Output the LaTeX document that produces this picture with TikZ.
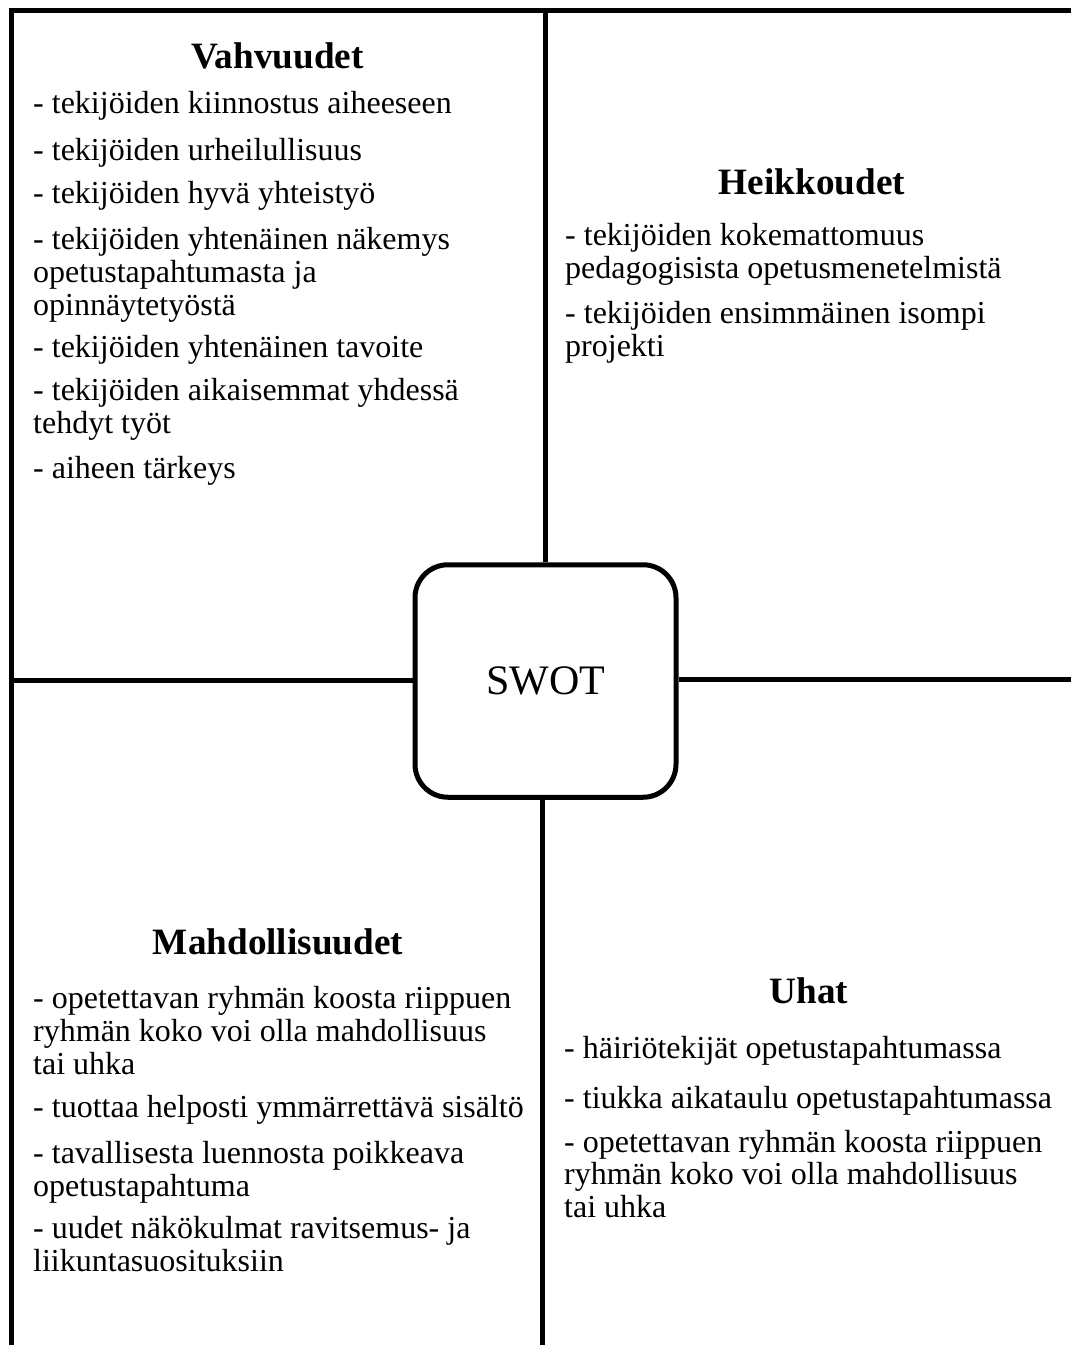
\documentclass[tikz,border=0pt]{standalone}
\usepackage{fontspec}
\setmainfont{Liberation Serif}
\begin{document}
\begin{tikzpicture}[x=1pt,y=-1pt,
  frame/.style={line width=5pt,line join=miter,line cap=butt},
  head/.style={anchor=base,inner sep=0pt,font=\fontsize{37.2}{41}\selectfont\bfseries},
  item/.style={anchor=base west,inner sep=0pt,font=\fontsize{32}{33}\selectfont},
  swotbox/.style={draw,line width=5pt,rounded corners=33pt,minimum width=261pt,minimum height=232.5pt,inner sep=0pt,font=\fontsize{42}{46}\selectfont}]
\useasboundingbox (0,0) rectangle (1071,1345);
% frame coordinates
\coordinate (fbl) at (11.5,1350);
\coordinate (ftl) at (11.5,10.5);
\coordinate (ftr) at (1076,10.5);
\coordinate (ftm) at (545.5,10.5);
\coordinate (fbm) at (542,1350);
\coordinate (flm) at (11.5,680);
\coordinate (frm) at (1076,679);
\draw[frame] (fbl) -- (ftl) -- (ftr);
% centre box
\node[swotbox] (swot) at (545.5,681) {SWOT};
\draw[frame] (swot.north -| ftm) -- (ftm);
\draw[frame] (swot.south -| fbm) -- (fbm);
\draw[frame] (swot.west |- flm) -- (flm);
\draw[frame] (swot.east |- frm) -- (frm);
% Vahvuudet
\node[head] (hs) at (277.5,68) {Vahvuudet};
\node[item] (s1) at (33,113) {- tekijöiden kiinnostus aiheeseen};
\node[item] (s2) at (33,160) {- tekijöiden urheilullisuus};
\node[item] (s3) at (33,203) {- tekijöiden hyvä yhteistyö};
\node[item] (s4) at (33,249) {- tekijöiden yhtenäinen näkemys};
\node[item] (s5) at (33,282) {opetustapahtumasta ja};
\node[item] (s6) at (33,315) {opinnäytetyöstä};
\node[item] (s7) at (33,357) {- tekijöiden yhtenäinen tavoite};
\node[item] (s8) at (33,400) {- tekijöiden aikaisemmat yhdessä};
\node[item] (s9) at (33,433) {tehdyt työt};
\node[item] (s10) at (33,478) {- aiheen tärkeys};
% Heikkoudet
\node[head] (hw) at (812,194) {Heikkoudet};
\node[item] (w1) at (565,245) {- tekijöiden kokemattomuus};
\node[item] (w2) at (565,278) {pedagogisista opetusmenetelmistä};
\node[item] (w3) at (565,323) {- tekijöiden ensimmäinen isompi};
\node[item] (w4) at (565,356) {projekti};
% Mahdollisuudet
\node[head] (ho) at (278,954) {Mahdollisuudet};
\node[item] (o1) at (33,1008) {- opetettavan ryhmän koosta riippuen};
\node[item] (o2) at (33,1041) {ryhmän koko voi olla mahdollisuus};
\node[item] (o3) at (33,1074) {tai uhka};
\node[item] (o4) at (33,1117) {- tuottaa helposti ymmärrettävä sisältö};
\node[item] (o5) at (33,1163) {- tavallisesta luennosta poikkeava};
\node[item] (o6) at (33,1196) {opetustapahtuma};
\node[item] (o7) at (33,1238) {- uudet näkökulmat ravitsemus- ja};
\node[item] (o8) at (33,1271) {liikuntasuosituksiin};
% Uhat
\node[head] (ht) at (809,1003) {Uhat};
\node[item] (t1) at (564,1058) {- häiriötekijät opetustapahtumassa};
\node[item] (t2) at (564,1108) {- tiukka aikataulu opetustapahtumassa};
\node[item] (t3) at (564,1152) {- opetettavan ryhmän koosta riippuen};
\node[item] (t4) at (564,1184) {ryhmän koko voi olla mahdollisuus};
\node[item] (t5) at (564,1217) {tai uhka};
\end{tikzpicture}
\end{document}
